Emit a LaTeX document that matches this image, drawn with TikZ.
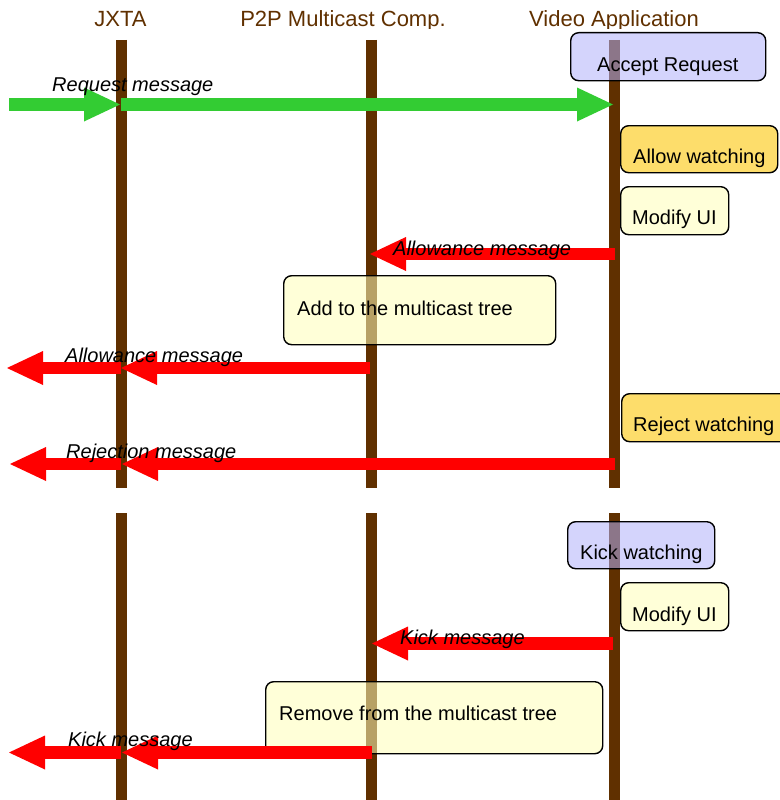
\documentclass[tikz,border=0pt]{standalone}
\usepackage{fontspec}
\setmainfont{Liberation Sans}
\usetikzlibrary{arrows.meta}
\definecolor{lifebrown}{RGB}{96,48,0}
\definecolor{arrgreen}{RGB}{51,204,51}
\definecolor{arrred}{RGB}{255,0,0}
\definecolor{lavbase}{RGB}{177,177,250}
\definecolor{creambase}{RGB}{255,255,184}
\definecolor{goldfill}{RGB}{253,221,107}
\begin{document}
\begin{tikzpicture}[x=1pt,y=-1pt,
  lifeline/.style={draw=lifebrown, line width=11pt},
  hdr/.style={font=\fontsize{22}{26}\selectfont, text=lifebrown, inner sep=0pt, anchor=base},
  actbox/.style={draw=black, line width=1.4pt, rounded corners=8pt, inner sep=0pt, anchor=north west},
  lavbox/.style={actbox, fill=lavbase, fill opacity=0.55},
  creambox/.style={actbox, fill=creambase, fill opacity=0.55},
  goldbox/.style={actbox, fill=goldfill},
  boxtxt/.style={font=\fontsize{20}{24}\selectfont, inner sep=0pt, anchor=base west},
  msgtxt/.style={font=\fontsize{20}{24}\selectfont\itshape, inner sep=0pt, anchor=base west},
  msgarrow/.style={line width=12.5pt, -{Triangle[length=36pt,width=34pt,line width=0pt]}},
  greenarrow/.style={msgarrow, draw=arrgreen},
  redarrow/.style={msgarrow, draw=arrred}
]
\useasboundingbox (0,0) rectangle (779,800);

% column headings (descenders cut by the heading strip)
\begin{scope}
  \clip (0,0) rectangle (779,29);
  \node[hdr] (hJ) at (120.5,27) {JXTA};
  \node[hdr] (hP) at (343,27) {P2P Multicast Comp.};
  \node[hdr] (hV) at (614,27) {Video Application};
\end{scope}

% lifelines, upper and lower part
\coordinate (jT1) at (121,40);  \coordinate (jB1) at (121,488);
\coordinate (pT1) at (371,40);  \coordinate (pB1) at (371,488);
\coordinate (vT1) at (614,40);  \coordinate (vB1) at (614,488);
\coordinate (jT2) at (121,513); \coordinate (jB2) at (121,800);
\coordinate (pT2) at (371,513); \coordinate (pB2) at (371,800);
\coordinate (vT2) at (614,513); \coordinate (vB2) at (614,800);
\foreach \a/\b in {jT1/jB1,pT1/pB1,vT1/vB1,jT2/jB2,pT2/pB2,vT2/vB2}
  \draw[lifeline] (\a) -- (\b);

% activity boxes
\node[lavbox, minimum width=195pt, minimum height=48pt] (acc) at (570,32) {};
\node[boxtxt] (accT) at (597,71) {Accept Request};
\node[goldbox, minimum width=157pt, minimum height=47pt] (allow) at (620,125) {};
\node[boxtxt] (allowT) at (633,163) {Allow watching};
\node[creambox, minimum width=108pt, minimum height=48pt] (mod1) at (620,186) {};
\node[boxtxt] (mod1T) at (632,224) {Modify UI};
\node[creambox, minimum width=272pt, minimum height=69pt] (add) at (283,275) {};
\node[boxtxt] (addT) at (297,315) {Add to the multicast tree};
\node[goldbox, minimum width=175pt, minimum height=48pt] (rej) at (621,393) {};
\node[boxtxt] (rejT) at (633,431) {Reject watching};
\node[lavbox, minimum width=147pt, minimum height=47pt] (kick) at (567,521) {};
\node[boxtxt] (kickT) at (580,559) {Kick watching};
\node[creambox, minimum width=108pt, minimum height=48pt] (mod2) at (620,582) {};
\node[boxtxt] (mod2T) at (632,621) {Modify UI};
\node[creambox, minimum width=337pt, minimum height=72pt] (rem) at (265,681) {};
\node[boxtxt] (remT) at (279,720) {Remove from the multicast tree};

% message end points
\coordinate (rq0) at (9,104.5);   \coordinate (rq1) at (120,104.5);
\coordinate (rq2) at (121,104.5); \coordinate (rq3) at (613,104.5);
\coordinate (al0) at (615,254);   \coordinate (al1) at (370,254);
\coordinate (ap0) at (370,368);   \coordinate (ap1) at (121,368);
\coordinate (ap2) at (121,368);   \coordinate (ap3) at (7,368);
\coordinate (rj0) at (615,464);   \coordinate (rj1) at (122,464);
\coordinate (rj2) at (121,464);   \coordinate (rj3) at (10,464);
\coordinate (kk0) at (613,643.5); \coordinate (kk1) at (372,643.5);
\coordinate (kp0) at (372,752.5); \coordinate (kp1) at (122,752.5);
\coordinate (kp2) at (121,752.5); \coordinate (kp3) at (9,752.5);

% messages
\draw[greenarrow] (rq0) -- (rq1);
\draw[greenarrow] (rq2) -- (rq3);
\draw[redarrow] (al0) -- (al1);
\draw[redarrow] (ap0) -- (ap1);
\draw[redarrow] (ap2) -- (ap3);
\draw[redarrow] (rj0) -- (rj1);
\draw[redarrow] (rj2) -- (rj3);
\draw[redarrow] (kk0) -- (kk1);
\draw[redarrow] (kp0) -- (kp1);
\draw[redarrow] (kp2) -- (kp3);

% message labels
\node[msgtxt] (rqT) at (52,92) {Request message};
\node[msgtxt] (alT) at (393,255) {Allowance message};
\node[msgtxt] (apT) at (65,362) {Allowance message};
\node[msgtxt] (rjT) at (66,458) {Rejection message};
\node[msgtxt] (kkT) at (400,644) {Kick message};
\node[msgtxt] (kpT) at (68,746) {Kick message};
\end{tikzpicture}
\end{document}
